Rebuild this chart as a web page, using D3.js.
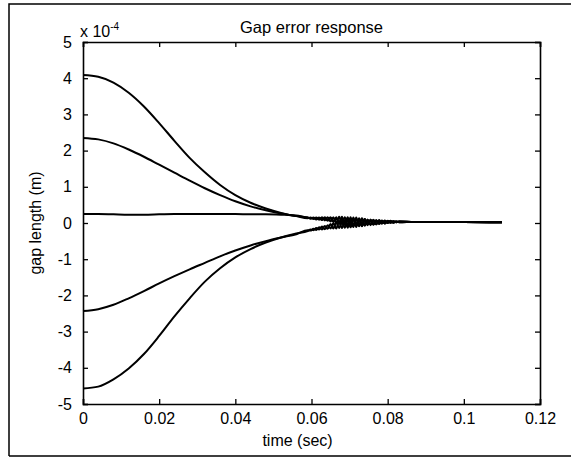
<!DOCTYPE html>
<html>
<title>Gap error response</title>
<style>
body{
  margin:0;
  background:#fff}

text{
  font-family:"Liberation Sans", Arial, sans-serif;
  fill:#000}

.axis path, .axis line{
  stroke:#000}

.curve{
  fill:none;
  stroke:#000;
  stroke-width:2;
  stroke-linejoin:round}
</style>
<script src="https://cdn.jsdelivr.net/npm/d3@7"></script>
<body>
<script type="text/javascript">
	// time samples (sec); dense where the responses ring around zero
	const time = [0, 0.004, 0.008, 0.012, 0.016, 0.020, 0.024, 0.028, 0.032, 0.036, 0.040, 0.044, 0.048, 0.052, 0.056,
		0.059, 0.05975, 0.0605, 0.06125, 0.062, 0.06275, 0.0635, 0.06425, 0.065, 0.06575, 0.0665,
		0.06725, 0.068, 0.06875, 0.0695, 0.07025, 0.071, 0.07175, 0.0725, 0.07325, 0.074, 0.07475,
		0.0755, 0.07625, 0.077, 0.07775, 0.0785, 0.07925, 0.080, 0.08075, 0.0815, 0.08225, 0.083,
		0.087, 0.095, 0.100, 0.110]

	// gap length, units of 1e-4 m
	const gapA = [4.09, 4.04, 3.88, 3.60, 3.22, 2.76, 2.27, 1.80, 1.40, 1.05, 0.77, 0.56, 0.40, 0.28, 0.19,
		0.15, 0.12, 0.15, 0.10, 0.15, 0.08, 0.16, 0.06, 0.16, 0.02, 0.16,
		-0.02, 0.17, -0.04, 0.16, -0.07, 0.15, -0.08, 0.13, -0.08, 0.11, -0.06,
		0.10, -0.05, 0.08, -0.03, 0.07, -0.02, 0.06, 0.01, 0.05, 0.02, 0.04,
		0.03, 0.03, 0.03, 0.02]
	const gapB = [2.35, 2.31, 2.20, 2.03, 1.83, 1.61, 1.39, 1.17, 0.96, 0.77, 0.60, 0.46, 0.35, 0.26, 0.19,
		0.13, 0.15, 0.11, 0.15, 0.09, 0.16, 0.07, 0.16, 0.04, 0.16, 0.00,
		0.17, -0.03, 0.16, -0.06, 0.16, -0.07, 0.15, -0.07, 0.13, -0.07, 0.10,
		-0.06, 0.09, -0.04, 0.08, -0.02, 0.07, 0.00, 0.06, 0.01, 0.05, 0.02,
		0.03, 0.03, 0.03, 0.02]
	const gapC = [0.25, 0.25, 0.24, 0.23, 0.23, 0.24, 0.25, 0.25, 0.25, 0.25, 0.25, 0.24, 0.24, 0.23, 0.21,
		0.15, 0.13, 0.14, 0.11, 0.14, 0.10, 0.13, 0.08, 0.13, 0.06, 0.12,
		0.03, 0.12, 0.01, 0.11, -0.01, 0.10, -0.02, 0.08, -0.03, 0.07, -0.02,
		0.06, -0.02, 0.05, 0.00, 0.05, 0.01, 0.05, 0.02, 0.04, 0.02, 0.04,
		0.03, 0.03, 0.03, 0.02]
	const gapD = [-2.43, -2.38, -2.26, -2.08, -1.88, -1.67, -1.47, -1.28, -1.10, -0.92, -0.76, -0.62, -0.50, -0.40, -0.31,
		-0.20, -0.21, -0.16, -0.19, -0.12, -0.18, -0.08, -0.16, -0.03, -0.15, 0.02,
		-0.14, 0.06, -0.13, 0.09, -0.12, 0.11, -0.11, 0.11, -0.09, 0.11, -0.04,
		0.08, -0.04, 0.07, -0.02, 0.06, -0.01, 0.05, 0.01, 0.05, 0.02, 0.04,
		0.03, 0.03, 0.03, 0.02]
	const gapE = [-4.57, -4.52, -4.32, -4.02, -3.62, -3.12, -2.58, -2.08, -1.62, -1.25, -0.95, -0.72, -0.54, -0.40, -0.29,
		-0.22, -0.18, -0.20, -0.14, -0.18, -0.10, -0.17, -0.06, -0.15, -0.01, -0.15,
		0.04, -0.14, 0.07, -0.13, 0.10, -0.11, 0.12, -0.09, 0.12, -0.07, 0.08,
		-0.04, 0.08, -0.03, 0.07, -0.01, 0.06, 0.00, 0.05, 0.01, 0.04, 0.02,
		0.03, 0.03, 0.03, 0.02]

	const series = [gapA, gapB, gapC, gapD, gapE]

	const xTicks = [0, 0.02, 0.04, 0.06, 0.08, 0.1, 0.12]
	const yTicks = [-5, -4, -3, -2, -1, 0, 1, 2, 3, 4, 5]

	const W = 571, H = 458
	const margin = { top: 42, right: 31, bottom: 54, left: 83 }
	const width = W - margin.left - margin.right
	const height = H - margin.top - margin.bottom

	const root = d3.select('body')
	  .append('svg')
			.attr('width', W)
			.attr('height', H)

	// outer frame of the figure
	root.append('path')
		.attr('d', `M9,456 L9,4 L571,4 M9,456 L571,456`)
		.style('fill', 'none')
		.style('stroke', '#000')
		.style('stroke-width', 1.5)

	const svg = root.append('g')
			.attr('transform', `translate(${margin.left}, ${margin.top})`)

	const x = d3.scaleLinear().domain([0, 0.12]).range([0, width])
	const y = d3.scaleLinear().domain([-5, 5]).range([height, 0])

	const fmt = d => d === 0 ? '0' : String(d)

	// ticks point inward on all four sides
	svg.append('g')
		.attr('class', 'axis')
		.attr('transform', `translate(0, ${height})`)
		.call(d3.axisBottom(x).tickValues(xTicks).tickSize(-5).tickPadding(9).tickFormat(fmt))
	svg.append('g')
		.attr('class', 'axis')
		.call(d3.axisTop(x).tickValues(xTicks).tickSize(-5).tickFormat(''))
	svg.append('g')
		.attr('class', 'axis')
		.call(d3.axisLeft(y).tickValues(yTicks).tickSize(-5).tickPadding(11).tickFormat(fmt))
	svg.append('g')
		.attr('class', 'axis')
		.attr('transform', `translate(${width}, 0)`)
		.call(d3.axisRight(y).tickValues(yTicks).tickSize(-5).tickFormat(''))

	svg.selectAll('.axis text').style('font-size', '16px')
	svg.selectAll('.axis path').style('stroke-width', 1.6)
	svg.selectAll('.axis line').style('stroke-width', 1.3)

	// curves
	const line = d3.line()
		.x((d, i) => x(time[i]))
		.y(d => y(d))
		.curve(d3.curveMonotoneX)

	svg.selectAll('.curve')
		.data(series)
		.enter().append('path')
			.attr('class', 'curve')
			.attr('d', line)

	// title
	svg.append('text')
		.attr('x', width / 2)
		.attr('y', -9)
		.style('text-anchor', 'middle')
		.style('font-size', '16.5px')
		.text('Gap error response')

	// exponent label
	const ex = svg.append('text')
		.attr('x', -3)
		.attr('y', -5)
		.style('font-size', '16px')
	ex.append('tspan').text('x 10')
	ex.append('tspan').attr('dy', -7).style('font-size', '10px').text('-4')

	// x label
	svg.append('text')
		.attr('x', width / 2 - 14)
		.attr('y', height + 42)
		.style('text-anchor', 'middle')
		.style('font-size', '16px')
		.text('time (sec)')

	// y label
	svg.append('text')
		.attr('transform', 'rotate(-90)')
		.attr('x', -height / 2)
		.attr('y', -42)
		.style('text-anchor', 'middle')
		.style('font-size', '16px')
		.text('gap length (m)')
</script>
</body>
</html>
